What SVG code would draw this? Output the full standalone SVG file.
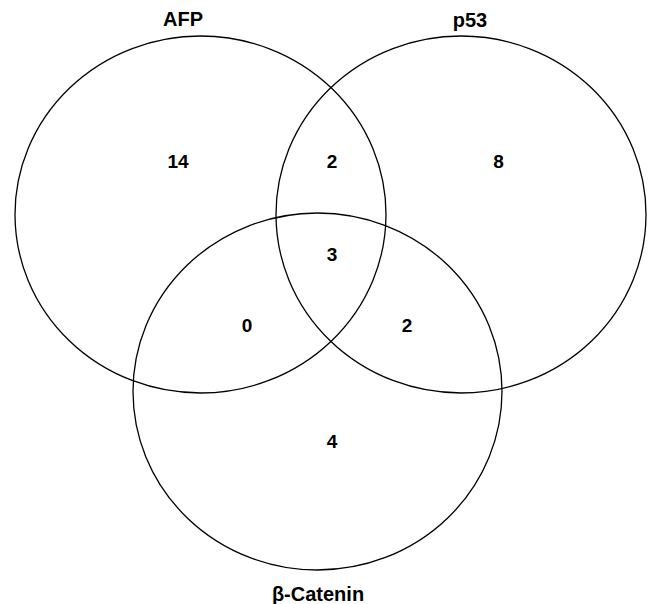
<svg xmlns="http://www.w3.org/2000/svg" width="654" height="604" viewBox="0 0 654 604">
<style>
.set{fill:none;stroke:#000;stroke-width:1.3}
.lbl{font-family:"Liberation Sans",Arial,sans-serif;font-weight:bold;font-size:20px;text-anchor:middle;fill:#000}
.num{font-family:"Liberation Sans",Arial,sans-serif;font-weight:bold;font-size:19px;text-anchor:middle;fill:#000}
</style>
<rect width="654" height="604" fill="#fff"/>
<g id="afp">
<ellipse class="set" cx="200.5" cy="214.5" rx="185.5" ry="178.5"/>
<text class="lbl" x="183" y="26">AFP</text>
</g>
<g id="p53">
<ellipse class="set" cx="461" cy="214.5" rx="185" ry="178.5"/>
<text class="lbl" x="470" y="26.5">p53</text>
</g>
<g id="bcatenin">
<ellipse class="set" cx="317.5" cy="391.5" rx="184.5" ry="178.5"/>
<text class="lbl" x="318" y="601">β-Catenin</text>
</g>
<g id="counts">
<text class="num" x="178" y="167.5">14</text>
<text class="num" x="332" y="167.5">2</text>
<text class="num" x="498.5" y="168">8</text>
<text class="num" x="332" y="261">3</text>
<text class="num" x="247" y="331.5">0</text>
<text class="num" x="407" y="331.5">2</text>
<text class="num" x="332" y="448">4</text>
</g>
</svg>
